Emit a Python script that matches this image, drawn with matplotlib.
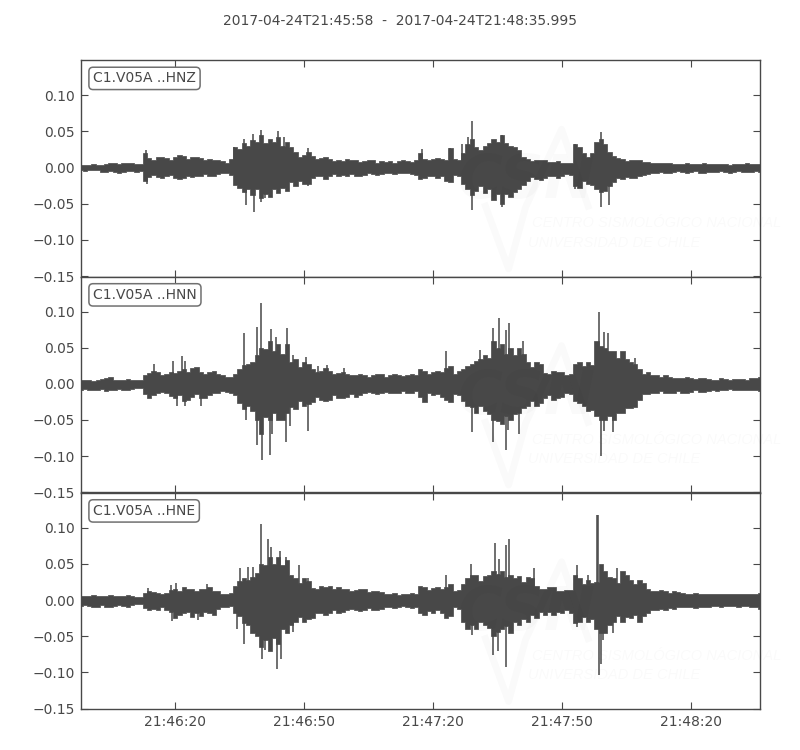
import numpy as np
import matplotlib
matplotlib.use("Agg")
import matplotlib.pyplot as plt
from matplotlib.ticker import FixedLocator, FuncFormatter

title = "2017-04-24T21:45:58  -  2017-04-24T21:48:35.995"
labels = ["C1.V05A ..HNZ", "C1.V05A ..HNN", "C1.V05A ..HNE"]
duration = 157.995
tick_secs = [22, 52, 82, 112, 142]
tick_names = ["21:46:20", "21:46:50", "21:47:20", "21:47:50", "21:48:20"]
y_ticks = [-0.15, -0.10, -0.05, 0.0, 0.05, 0.10]

# envelope: even seconds 0..158
hnz_up = [.004,.004,.004,.005,.006,.006,.006,.005,.013,.014,.013,.014,.016,.015,.013,.012,.010,.007,
          .028,.034,.038,.045,.040,.042,.036,.022,.018,.016,.013,.012,.011,.012,.010,.009,.010,.009,
          .009,.009,.009,.010,.012,.012,.012,.027,.010,.033,.028,.030,.040,.045,.030,.025,.012,.010,
          .010,.008,.007,.006,.028,.015,.035,.032,.016,.012,.010,.010,.008,.006,.006,.005,.005,.005,
          .005,.005,.005,.005,.005,.005,.005,.005]
hnz_lo = [-.004,-.004,-.004,-.006,-.006,-.006,-.005,-.005,-.013,-.013,-.012,-.015,-.015,-.013,-.012,-.011,-.009,-.007,
          -.024,-.034,-.038,-.042,-.040,-.035,-.032,-.025,-.022,-.015,-.012,-.012,-.011,-.012,-.012,-.010,-.009,-.009,
          -.008,-.008,-.008,-.010,-.014,-.012,-.012,-.020,-.012,-.030,-.032,-.035,-.045,-.050,-.040,-.030,-.018,-.016,
          -.015,-.012,-.012,-.010,-.028,-.022,-.030,-.032,-.020,-.016,-.014,-.012,-.009,-.007,-.007,-.006,-.006,-.006,
          -.007,-.006,-.006,-.006,-.006,-.006,-.006,-.006]
hnn_up = [.005,.005,.005,.008,.006,.006,.006,.005,.015,.016,.014,.015,.020,.022,.017,.016,.014,.010,
          .014,.026,.030,.050,.060,.055,.055,.035,.030,.020,.018,.018,.015,.014,.012,.012,.012,.014,
          .012,.012,.012,.012,.018,.016,.016,.025,.018,.025,.032,.040,.060,.055,.050,.050,.030,.030,
          .015,.018,.016,.013,.030,.030,.060,.050,.045,.045,.030,.020,.016,.012,.012,.008,.008,.008,
          .008,.007,.006,.007,.007,.007,.008,.009]
hnn_lo = [-.008,-.009,-.009,-.010,-.008,-.008,-.007,-.006,-.020,-.012,-.013,-.020,-.024,-.018,-.020,-.015,-.012,-.011,
          -.016,-.035,-.038,-.070,-.050,-.050,-.040,-.035,-.030,-.025,-.022,-.022,-.020,-.018,-.018,-.013,-.012,-.013,
          -.012,-.013,-.012,-.010,-.025,-.015,-.018,-.025,-.015,-.030,-.040,-.038,-.050,-.055,-.050,-.040,-.030,-.030,
          -.020,-.023,-.018,-.014,-.027,-.038,-.045,-.050,-.050,-.040,-.033,-.022,-.014,-.012,-.012,-.012,-.012,-.011,
          -.011,-.010,-.010,-.009,-.009,-.008,-.009,-.010]
hne_up = [.006,.006,.006,.006,.006,.006,.005,.004,.012,.010,.010,.015,.018,.016,.016,.018,.012,.008,
          .020,.030,.032,.050,.060,.060,.055,.030,.030,.017,.020,.020,.018,.015,.014,.015,.012,.011,
          .009,.007,.009,.009,.018,.017,.016,.022,.014,.030,.035,.033,.040,.040,.035,.033,.032,.020,
          .015,.018,.012,.014,.030,.028,.025,.040,.030,.040,.028,.028,.015,.013,.012,.012,.010,.009,
          .008,.008,.008,.008,.008,.008,.009,.010]
hne_lo = [-.008,-.008,-.009,-.009,-.008,-.008,-.007,-.006,-.014,-.014,-.013,-.025,-.018,-.023,-.022,-.018,-.012,-.010,
          -.018,-.032,-.045,-.065,-.070,-.060,-.045,-.030,-.030,-.025,-.018,-.018,-.018,-.014,-.014,-.013,-.013,-.012,
          -.010,-.010,-.009,-.010,-.020,-.018,-.018,-.022,-.012,-.040,-.040,-.035,-.050,-.040,-.045,-.035,-.030,-.025,
          -.020,-.020,-.018,-.018,-.030,-.030,-.040,-.045,-.030,-.030,-.025,-.030,-.018,-.014,-.014,-.012,-.010,-.010,
          -.010,-.009,-.008,-.008,-.008,-.008,-.009,-.012]

# same envelope at the odd seconds 1..157
hnz_up_odd = [.004,.005,.004,.006,.005,.006,.005,.020,.011,.015,
              .010,.017,.012,.014,.010,.010,.009,.012,.026,.030,
              .036,.034,.035,.030,.028,.014,.022,.012,.015,.009,
              .009,.010,.008,.011,.007,.008,.007,.010,.008,.020,
              .010,.013,.011,.012,.020,.040,.024,.034,.036,.034,
              .028,.015,.009,.011,.008,.009,.006,.032,.020,.020,
              .040,.022,.013,.009,.011,.008,.007,.006,.007,.005,
              .006,.005,.006,.005,.005,.004,.005,.006,.005]
hnz_lo_odd = [-.005,-.004,-.006,-.005,-.007,-.005,-.006,-.018,-.010,-.015,
              -.010,-.016,-.011,-.012,-.009,-.012,-.008,-.010,-.028,-.030,
              -.030,-.036,-.030,-.028,-.020,-.018,-.022,-.012,-.016,-.009,
              -.010,-.009,-.012,-.008,-.010,-.007,-.009,-.007,-.009,-.016,
              -.011,-.014,-.018,-.010,-.022,-.038,-.026,-.030,-.036,-.036,
              -.034,-.024,-.013,-.017,-.012,-.014,-.009,-.026,-.018,-.024,
              -.034,-.026,-.014,-.013,-.015,-.010,-.008,-.006,-.008,-.005,
              -.007,-.005,-.007,-.006,-.005,-.007,-.005,-.006,-.005]
hnn_up_odd = [.006,.004,.007,.010,.005,.007,.005,.012,.018,.012,
              .017,.018,.016,.024,.014,.018,.012,.009,.020,.028,
              .040,.048,.045,.042,.030,.024,.028,.016,.022,.014,
              .016,.012,.014,.010,.013,.010,.014,.011,.013,.020,
              .013,.018,.022,.014,.020,.028,.034,.036,.050,.042,
              .040,.042,.024,.028,.014,.016,.012,.028,.025,.026,
              .052,.045,.036,.034,.028,.013,.012,.009,.010,.008,
              .009,.007,.008,.006,.008,.006,.007,.006,.008]
hnn_lo_odd = [-.007,-.008,-.007,-.009,-.007,-.009,-.006,-.014,-.015,-.011,
              -.017,-.016,-.022,-.014,-.020,-.013,-.010,-.013,-.026,-.030,
              -.050,-.046,-.040,-.050,-.032,-.024,-.028,-.018,-.024,-.016,
              -.020,-.014,-.016,-.011,-.014,-.011,-.013,-.010,-.012,-.018,
              -.012,-.014,-.022,-.014,-.024,-.032,-.030,-.042,-.052,-.044,
              -.042,-.033,-.024,-.026,-.016,-.020,-.012,-.024,-.030,-.036,
              -.050,-.044,-.040,-.034,-.032,-.014,-.012,-.010,-.013,-.010,
              -.012,-.009,-.011,-.008,-.009,-.007,-.009,-.008,-.008]
hne_up_odd = [.005,.007,.005,.007,.005,.007,.004,.010,.011,.008,
              .014,.013,.016,.013,.015,.013,.008,.010,.026,.028,
              .038,.048,.050,.048,.035,.024,.026,.016,.018,.016,
              .015,.013,.016,.011,.013,.009,.010,.008,.010,.020,
              .014,.018,.018,.012,.022,.034,.026,.034,.036,.032,
              .030,.025,.030,.016,.018,.012,.014,.034,.022,.024,
              .050,.032,.024,.034,.022,.024,.012,.014,.010,.011,
              .009,.010,.008,.009,.008,.009,.008,.009,.009]
hne_lo_odd = [-.007,-.009,-.007,-.010,-.007,-.009,-.006,-.011,-.012,-.010,
              -.016,-.020,-.016,-.018,-.016,-.020,-.010,-.008,-.022,-.035,
              -.050,-.055,-.052,-.040,-.034,-.024,-.026,-.018,-.020,-.014,
              -.016,-.012,-.015,-.011,-.014,-.009,-.011,-.008,-.011,-.018,
              -.015,-.014,-.025,-.010,-.030,-.034,-.030,-.038,-.044,-.036,
              -.030,-.026,-.020,-.017,-.016,-.016,-.014,-.032,-.024,-.026,
              -.046,-.034,-.022,-.024,-.020,-.022,-.014,-.012,-.011,-.010,
              -.009,-.011,-.009,-.008,-.009,-.008,-.009,-.008,-.010]

# single tall peaks sticking out of the envelope
hnz_peak_t = [15.3,35.7,38,40,42,46,47.4,53,79.5,86,88.6,90,91,98,115,121,15.4,38.5,40.3,42,42.8,91,96,98,115,121,123,53]
hnz_peak_v = [.025,.028,.039,.046,.052,.050,.042,.027,.026,.027,.033,.042,.065,.045,.033,.049,-.023,-.052,-.061,-.048,-.042,-.059,-.045,-.054,-.030,-.055,-.052,-.025]
hnn_peak_t = [17,21.5,23.5,24.4,38,41.1,41.9,44.4,45.4,48,49.5,52.4,55.2,57.4,61.3,85,93,97.2,95.9,99,99.7,103,120.6,121.8,122.6,129,
              41,42.2,44,44.5,47.7,48.6,38.4,52.8,22.5,24.4,28,91.1,95.9,98.9,99.5,102,121,121.8,123.8]
hnn_peak_v = [.027,.031,.039,.031,.070,.079,.1115,.0755,.065,.077,.040,.037,.025,.026,.022,.045,.047,.091,.077,.075,.084,.060,.100,.072,.071,.036,
              -.085,-.105,-.099,-.070,-.080,-.059,-.050,-.066,-.030,-.031,-.030,-.067,-.080,-.091,-.064,-.070,-.100,-.066,-.067]
hne_peak_t = [15.8,21,22.2,29.3,37.2,39,40,41.9,43.7,44.4,46.5,47.7,50.7,52.8,85,90.7,96.3,97.4,99,99.6,105.5,115.4,118,120.2,120.4,124.7,
              21.2,27.4,36.4,38.1,42.1,42.8,44.2,45.6,46.7,49.3,91,95.9,97,99,115.4,120.5,121.1,121.6,123.9]
hne_peak_v = [.017,.021,.024,.022,.045,.046,.046,.105,.085,.074,.068,.059,.049,.031,.035,.050,.079,.057,.076,.085,.045,.048,.035,.118,.118,.044,
              -.029,-.027,-.040,-.060,-.082,-.069,-.068,-.095,-.082,-.044,-.048,-.076,-.071,-.092,-.037,-.104,-.088,-.055,-.046]

uppers = [(hnz_up, hnz_up_odd), (hnn_up, hnn_up_odd), (hne_up, hne_up_odd)]
lowers = [(hnz_lo, hnz_lo_odd), (hnn_lo, hnn_lo_odd), (hne_lo, hne_lo_odd)]
peak_ts = [hnz_peak_t, hnn_peak_t, hne_peak_t]
peak_vs = [hnz_peak_v, hnn_peak_v, hne_peak_v]

# faint logo strokes, axes fractions
logo_x = [0.596, 0.630, 0.655, 0.708, 0.747]
logo_y = [0.325, 0.035, 0.320, 0.680, 0.325]

grey = "#484848"
plt.rcParams["font.family"] = "DejaVu Sans"
plt.rcParams["font.size"] = 10


def merge(pair):
    even, odd = pair
    out = np.empty(len(even) + len(odd))
    out[::2] = even
    out[1::2] = odd
    return out


fig = plt.figure(figsize=(8, 7.5), dpi=100)
fig.text(0.5, 0.9725, title, ha="center", va="center", color=grey, fontsize=10)

lefts = 80.5 / 800
width = 679.5 / 800
tops = [60, 276.5, 492.5, 709]
for i in range(3):
    h = (tops[i + 1] - tops[i]) / 750
    ax = fig.add_axes([lefts, 1 - tops[i + 1] / 750, width, h])
    up = merge(uppers[i])
    lo = merge(lowers[i])
    t = np.arange(len(up)) * 1.0
    ax.fill_between(t, lo, up, step="mid", color=grey, lw=0.5)
    ax.vlines(peak_ts[i], 0, peak_vs[i], color=grey, lw=1.1)
    ax.set_xlim(0, duration)
    ax.set_ylim(-0.1505, 0.1487)
    ax.xaxis.set_major_locator(FixedLocator(tick_secs))
    ax.yaxis.set_major_locator(FixedLocator(y_ticks))
    ax.yaxis.set_major_formatter(FuncFormatter(lambda v, p: ("%.2f" % v).replace("-", "\u2212")))
    if i == 2:
        ax.set_xticklabels(tick_names)
    else:
        ax.set_xticklabels([])
    ax.tick_params(direction="in", top=True, right=True, length=5, width=0.8,
                   color=grey, labelcolor=grey, labelsize=10, pad=4)
    for s in ax.spines.values():
        s.set_color(grey)
        s.set_linewidth(1.0)
    ax.text(0.0185, 0.915, labels[i], transform=ax.transAxes, color=grey, fontsize=10,
            ha="left", va="center",
            bbox=dict(boxstyle="round,pad=0.3", fc="white", ec="#707070", lw=1.1))
    # faint logo over the trace
    wm = dict(transform=ax.transAxes, color="k", alpha=0.02, style="italic", va="center")
    ax.text(0.555, 0.44, "CSN", fontsize=44, weight="bold", ha="left", **wm)
    ax.text(0.665, 0.245, "CENTRO SISMOL\u00d3GICO NACIONAL", fontsize=10.5, family="Liberation Sans", ha="left", **wm)
    ax.text(0.658, 0.155, "UNIVERSIDAD DE CHILE", fontsize=10.5, family="Liberation Sans", ha="left", **wm)
    ax.plot(logo_x, logo_y, transform=ax.transAxes, color="k", alpha=0.02, lw=5)

fig.savefig("out.png", dpi=100)
